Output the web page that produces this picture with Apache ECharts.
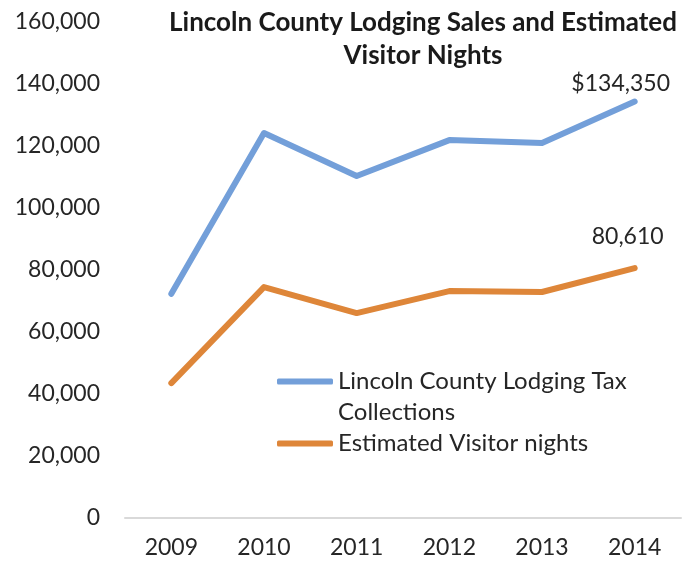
<!DOCTYPE html>
<html>
<head>
<meta charset="utf-8">
<script src="https://cdn.jsdelivr.net/npm/echarts@6/dist/echarts.min.js"></script>
<style>html,body{margin:0;padding:0;background:#fff}#c{width:684px;height:567px}</style>
</head>
<body>
<div id="c"></div>
<script>
const years = ['2009', '2010', '2011', '2012', '2013', '2014'];
const taxCollections = [72300, 124200, 110300, 121900, 121000, 134350];
const visitorNights = [43500, 74500, 66100, 73200, 72900, 80610];
const seriesNames = ['Lincoln County Lodging Tax Collections', 'Estimated Visitor nights'];
const titleText = 'Lincoln County Lodging Sales and Estimated\nVisitor Nights';

const FONT = 'Lato';
const TXT = '#262626';
const chart = echarts.init(document.getElementById('c'), null, {renderer: 'canvas'});
chart.setOption({
  animation: false,
  backgroundColor: '#fff',
  title: {
    text: titleText,
    left: 418, top: 1, textAlign: 'center',
    textStyle: {fontFamily: FONT, fontWeight: 'bold', fontSize: 26, lineHeight: 33, color: '#1a1a1a'}
  },
  grid: {left: 125, right: 3, top: 22, bottom: 49, containLabel: false},
  legend: {
    orient: 'vertical',
    left: 272, top: 330,
    itemWidth: 56, itemHeight: 6, itemGap: 0,
    icon: 'roundRect',
    textStyle: {fontFamily: FONT, fontSize: 24, color: TXT, lineHeight: 31},
    data: seriesNames,
    formatter: function (n) { return n === seriesNames[0] ? ' \nLincoln County Lodging Tax\nCollections' : n; }
  },
  xAxis: {
    type: 'category', data: years, boundaryGap: true,
    axisLine: {lineStyle: {color: '#d9d9d9', width: 2}},
    axisTick: {show: false},
    axisLabel: {fontFamily: FONT, fontSize: 23, color: TXT, margin: 18}
  },
  yAxis: {
    type: 'value', min: 0, max: 160000, interval: 20000,
    splitLine: {show: false},
    axisLine: {show: false}, axisTick: {show: false},
    axisLabel: {fontFamily: FONT, fontSize: 23, color: TXT, margin: 25,
      formatter: v => v.toLocaleString('en-US')}
  },
  series: [
    {
      name: seriesNames[0], type: 'line',
      data: taxCollections.map((v, i) => i === 5 ? {
        value: v, label: {show: true, position: 'top', distance: 6, offset: [-14, 0],
          formatter: p => '$' + p.value.toLocaleString('en-US'),
          fontFamily: FONT, fontSize: 23, color: TXT}
      } : v),
      symbol: 'circle', symbolSize: 0, showSymbol: true, color: '#739fd9',
      lineStyle: {width: 6, cap: 'round', join: 'round'}
    },
    {
      name: seriesNames[1], type: 'line',
      data: visitorNights.map((v, i) => i === 5 ? {
        value: v, label: {show: true, position: 'top', distance: 20, offset: [-7, 0],
          formatter: p => p.value.toLocaleString('en-US'),
          fontFamily: FONT, fontSize: 23, color: TXT}
      } : v),
      symbol: 'circle', symbolSize: 0, showSymbol: true, color: '#de8639',
      lineStyle: {width: 6, cap: 'round', join: 'round'}
    }
  ]
});
</script>
</body>
</html>
